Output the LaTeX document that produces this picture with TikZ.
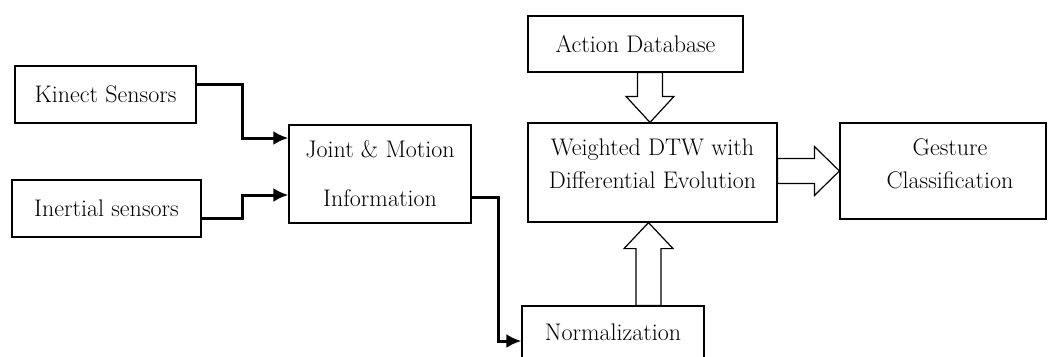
\documentclass[tikz,border=0pt]{standalone}
\usepackage{fontspec}
\usetikzlibrary{arrows.meta,positioning,calc}

\begin{document}
\begin{tikzpicture}[
  x=1pt, y=-1pt,
  box/.style={draw, line width=1.2pt, inner sep=0pt, align=center, font=\fontsize{24}{33}\selectfont},
  label/.style={align=center, inner sep=0pt, font=\fontsize{24}{33}\selectfont},
  arrow/.style={-{Latex[length=15pt,width=14pt]}, line width=3pt},
  blockarrow/.style={draw, fill=white, line width=1.2pt, line join=miter}
]
\useasboundingbox (0,0) rectangle (1049,356);
\clip (0,0) rectangle (1049,356);
\node[box, minimum width=181pt, minimum height=57pt] (kinect) at (105.5,94.5) {Kinect Sensors};
\node[box, minimum width=189pt, minimum height=57pt] (inertial) at (106.5,208.5) {Inertial sensors};
\node[box, minimum width=182pt, minimum height=98pt] (joint) at (380,174) {Joint \& Motion\\[16pt]Information};
\node[box, minimum width=215pt, minimum height=56pt] (db) at (635.5,44) {Action Database};
\node[box, minimum width=249pt, minimum height=99pt] (dtw) at (652.5,172.5) {};
\node[label] (dtwtext) at (652.5,164) {Weighted DTW with\\Differential Evolution};
\node[box, minimum width=206pt, minimum height=96pt] (gesture) at (943,171) {};
\node[label] (gesturetext) at (950,164) {Gesture\\Classification};
\node[box, minimum width=182pt, minimum height=52pt] (norm) at (613,332) {Normalization};
% sensor inputs
\draw[arrow] ([yshift=10.5pt]kinect.east) -- ++(46,0) |- ([yshift=36pt]joint.west);
\draw[arrow] ([yshift=-9.5pt]inertial.east) -- ++(41,0) |- ([yshift=-21pt]joint.west);
\draw[arrow] ([yshift=-23pt]joint.east) -- ++(27,0) |- ([yshift=-9pt]norm.west);
% hollow arrows
\coordinate (dbtip) at ([xshift=-2.5pt]dtw.north);
\coordinate (nmtip) at ([xshift=-4pt]dtw.south);
\draw[blockarrow] (dbtip) -- ++(24,-26) -- ++(-11.5,0) -- ($(dbtip |- db.south)+(12.5,0)$)
  -- ++(-25,0) -- ($(dbtip)+(-12.5,-26)$) -- ++(-11.5,0) -- cycle;
\draw[blockarrow] (nmtip) -- ++(24.5,26) -- ++(-12,0) -- ($(nmtip |- norm.north)+(12.5,0)$)
  -- ++(-25,0) -- ($(nmtip)+(-12.5,26)$) -- ++(-12,0) -- cycle;
\draw[blockarrow] (gesture.west) -- ++(-25,-24.5) -- ++(0,12) -- ($(gesture.west -| dtw.east)+(0,-12.5)$)
  -- ++(0,25) -- ($(gesture.west)+(-25,12.5)$) -- ++(0,12) -- cycle;
\end{tikzpicture}
\end{document}
